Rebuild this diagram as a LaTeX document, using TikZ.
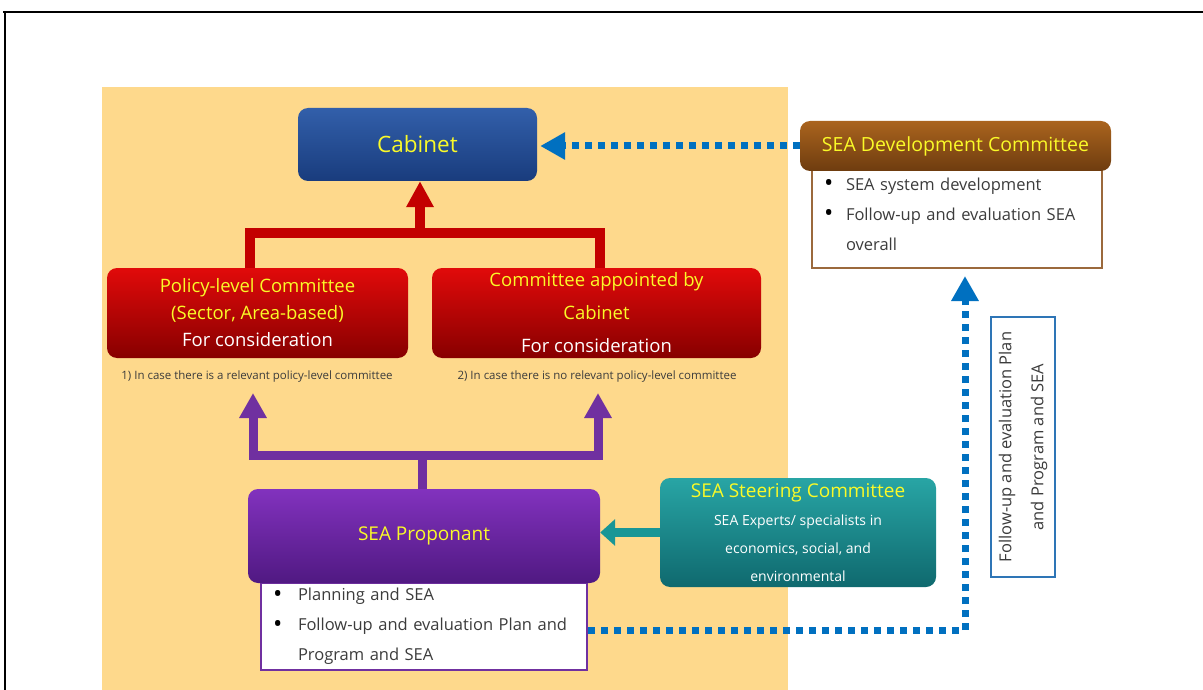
\documentclass[tikz,border=0pt]{standalone}
\usepackage{fontspec}
\setmainfont{Open Sans}
\usetikzlibrary{arrows.meta}
\definecolor{bgbeige}{RGB}{254,217,140}
\definecolor{yel}{RGB}{250,250,40}
\definecolor{txt}{RGB}{60,60,60}
\definecolor{cabT}{RGB}{50,95,170}
\definecolor{cabB}{RGB}{25,60,125}
\definecolor{redT}{RGB}{225,10,10}
\definecolor{redB}{RGB}{135,0,0}
\definecolor{redA}{RGB}{195,0,0}
\definecolor{purT}{RGB}{130,50,190}
\definecolor{purB}{RGB}{80,25,130}
\definecolor{purA}{RGB}{112,48,160}
\definecolor{tealT}{RGB}{40,165,165}
\definecolor{tealB}{RGB}{15,105,110}
\definecolor{tealA}{RGB}{25,150,150}
\definecolor{brT}{RGB}{170,100,30}
\definecolor{brB}{RGB}{110,60,15}
\definecolor{brL}{RGB}{155,105,60}
\definecolor{bluedots}{RGB}{0,112,192}
\definecolor{blueframe}{RGB}{46,117,182}
\newcommand{\bigbul}{\raisebox{-1.8pt}{\textcolor{black}{\scalebox{1.5}{\textbullet}}}}
\begin{document}
\begin{tikzpicture}[x=1pt,y=-1pt,
  box/.style={rounded corners=10pt, inner sep=4pt},
  listbox/.style={fill=white, line width=2pt, inner sep=0pt, text=txt, align=left},
  note/.style={font=\fontsize{11.5}{13}\selectfont, text=txt, inner sep=1pt},
  rline/.style={draw=redA, line width=10pt, line join=miter},
  rarrow/.style={draw=redA, line width=10pt, -{Triangle[width=26pt,length=26pt]}},
  pline/.style={draw=purA, line width=9pt, line join=miter},
  parrow/.style={draw=purA, line width=9pt, line join=miter, -{Triangle[width=26pt,length=25pt]}},
  tarrow/.style={draw=tealA, line width=9pt, -{Triangle[width=26pt,length=15pt]}},
  bluedot/.style={draw=bluedots, line width=7pt, dash pattern=on 7pt off 6pt, -{Triangle[width=26pt,length=25pt]}},
]
\useasboundingbox (0,0) rectangle (1203,690);
\draw[line width=2.5pt] (3,12) -- (1203,12);
\draw[line width=2.5pt] (5,12) -- (5,690);
\fill[bgbeige] (102,87) rectangle (788,690);

% Cabinet
\node[box, top color=cabT, bottom color=cabB, minimum width=239pt, minimum height=73pt,
  font=\fontsize{22.5}{26}\selectfont, text=yel] (cab) at (417.5,144.5) {Cabinet};

% red committees
\node[box, top color=redT, bottom color=redB, minimum width=301pt, minimum height=90pt,
  font=\fontsize{18.5}{27}\selectfont, text=yel, align=center] (pol) at (257.5,313)
  {Policy-level Committee\\(Sector, Area-based)\\{\color{white}For consideration}};
\node[box, top color=redT, bottom color=redB, minimum width=329pt, minimum height=90pt,
  font=\fontsize{18.5}{33}\selectfont, text=yel, align=center] (com) at (596.5,313)
  {Committee appointed by\\Cabinet\\{\color{white}For consideration}};

\node[note] (n1) at (257,377) {1) In case there is a relevant policy-level committee};
\node[note] (n2) at (597,377) {2) In case there is no relevant policy-level committee};

% red connector
\coordinate (rj) at (420,233);
\draw[rline] ([xshift=-7.5pt]pol.north) |- (rj) -| ([xshift=3.5pt]com.north);
\draw[rarrow] (rj) -- (rj |- cab.south);

% proponant list + box
\node[listbox, draw=purA, minimum width=326pt, minimum height=87pt, text width=302pt,
  font=\fontsize{16.5}{30}\selectfont] (plist) at (424,626.5)
  {\makebox[25pt][l]{\bigbul}Planning and SEA\\
   \makebox[25pt][l]{\bigbul}Follow-up and evaluation Plan and\\
   \hspace*{25pt}Program and SEA};
\node[box, top color=purT, bottom color=purB, minimum width=352pt, minimum height=94pt,
  font=\fontsize{19}{22}\selectfont, text=yel] (prop) at (424,536) {SEA Proponant};

% purple connector
\coordinate (pj) at (422,455);
\coordinate (pa1) at (253,393);
\coordinate (pa2) at (598,393);
\draw[pline] (prop.north -| pj) -- (pj);
\draw[parrow] (pj) -| (pa1);
\draw[parrow] (pj) -| (pa2);

% steering committee
\node[box, top color=tealT, bottom color=tealB, minimum width=276pt, minimum height=109pt,
  font=\fontsize{14}{28}\selectfont, text=white, align=center] (steer) at (798,532.5)
  {{\fontsize{19}{22}\selectfont\color{yel}SEA Steering Committee}\\SEA Experts/ specialists in\\economics, social, and\\environmental};
\draw[tarrow] (steer.west) -- (steer.west -| prop.east);

% development committee
\node[listbox, draw=brL, minimum width=290pt, minimum height=108pt, text width=266pt,
  font=\fontsize{16.5}{30}\selectfont] (devlist) at (957,214)
  {\makebox[22pt][l]{\bigbul}SEA system development\\
   \makebox[22pt][l]{\bigbul}Follow-up and evaluation SEA\\
   \hspace*{22pt}overall};
\node[box, top color=brT, bottom color=brB, minimum width=311pt, minimum height=50pt,
  font=\fontsize{19.5}{22}\selectfont, text=yel] (dev) at (955.5,146) {SEA Development Committee};

% blue dotted connectors
\draw[bluedot] (dev.west) -- ([xshift=3pt]dev.west -| cab.east);
\draw[bluedot] ([yshift=-3.5pt]plist.east) -| ([xshift=8pt,yshift=-7pt]devlist.south);

% rotated label
\node[draw=blueframe, line width=2pt, fill=white, rotate=90, minimum width=260pt, minimum height=64pt,
  align=center, font=\fontsize{16.5}{32}\selectfont, text=txt] (fu) at (1023,447)
  {Follow-up and evaluation Plan\\and Program and SEA};
\end{tikzpicture}
\end{document}
